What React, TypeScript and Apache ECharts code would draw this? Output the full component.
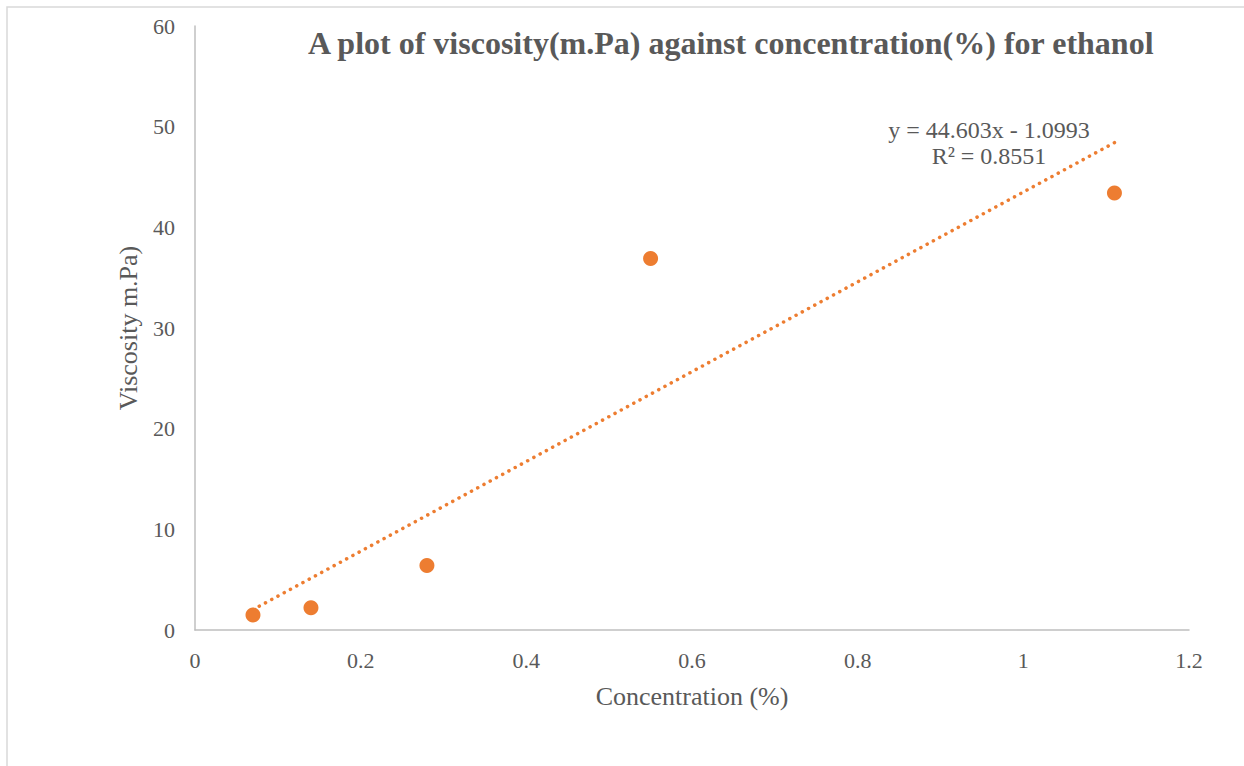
import React, { useEffect, useRef } from "react";
import * as echarts from "echarts";

const concentration = [0.07, 0.14, 0.28, 0.55, 1.11];
const viscosity = [1.5, 2.2, 6.4, 36.9, 43.4];
const slope = 44.603;
const intercept = -1.0993;
const rSquared = "0.8551";
const trendX = [0.07, 1.11];

const FONT = "'Liberation Serif', 'Times New Roman', serif";
const TEXT = "#595959";
const ORANGE = "#ED7D31";

export default function App() {
  const ref = useRef<HTMLDivElement>(null);
  useEffect(() => {
    if (!ref.current) return;
    const chart = echarts.init(ref.current, undefined, { renderer: "svg" });
    const trend = trendX.map((x) => [x, slope * x + intercept]);
    chart.setOption({
      animation: false,
      backgroundColor: "#ffffff",
      textStyle: { fontFamily: FONT },
      grid: { left: 195, right: 55, top: 26, bottom: 136 },
      xAxis: {
        type: "value",
        min: 0,
        max: 1.2,
        interval: 0.2,
        name: "Concentration (%)",
        nameLocation: "middle",
        nameGap: 53,
        nameTextStyle: { fontFamily: FONT, fontSize: 26, color: TEXT },
        axisLine: { show: true, lineStyle: { color: "#bfbfbf", width: 1.5 } },
        axisTick: { show: false },
        splitLine: { show: false },
        axisLabel: { fontFamily: FONT, fontSize: 22, color: TEXT, margin: 19 },
      },
      yAxis: {
        type: "value",
        min: 0,
        max: 60,
        interval: 10,
        name: "Viscosity m.Pa)",
        nameLocation: "middle",
        nameGap: 54,
        nameTextStyle: { fontFamily: FONT, fontSize: 26, color: TEXT },
        axisLine: { show: true, lineStyle: { color: "#bfbfbf", width: 1.5 } },
        axisTick: { show: false },
        splitLine: { show: false },
        axisLabel: { fontFamily: FONT, fontSize: 22, color: TEXT, margin: 20 },
      },
      graphic: [
        {
          type: "rect",
          shape: { x: 7, y: 7, width: 1300, height: 800 },
          style: { fill: "none", stroke: "#d9d9d9", lineWidth: 1.5 },
          silent: true,
        },
        {
          type: "text",
          left: 308,
          top: 27,
          style: {
            text: "A plot of viscosity(m.Pa) against concentration(%) for ethanol",
            font: `bold 32px ${FONT}`,
            fill: TEXT,
          },
        },
        {
          type: "text",
          x: 989,
          y: 130,
          style: {
            text: `y = ${slope}x - ${Math.abs(intercept)}`,
            font: `24px ${FONT}`,
            fill: TEXT,
            align: "center",
            verticalAlign: "middle",
          },
        },
        {
          type: "text",
          x: 989,
          y: 156,
          style: {
            text: `R² = ${rSquared}`,
            font: `24px ${FONT}`,
            fill: TEXT,
            align: "center",
            verticalAlign: "middle",
          },
        },
      ],
      series: [
        {
          type: "line",
          data: trend,
          showSymbol: false,
          symbol: "none",
          lineStyle: { color: ORANGE, width: 3.5, type: [0.1, 7], cap: "round" },
          z: 1,
        },
        {
          type: "scatter",
          data: concentration.map((x, i) => [x, viscosity[i]]),
          symbol: "circle",
          symbolSize: 15,
          itemStyle: { color: ORANGE, opacity: 1 },
          z: 2,
        },
      ],
    });
    return () => chart.dispose();
  }, []);
  return (
    <div
      ref={ref}
      style={{ position: "fixed", left: 0, top: 0, width: 1244, height: 766 }}
    />
  );
}
